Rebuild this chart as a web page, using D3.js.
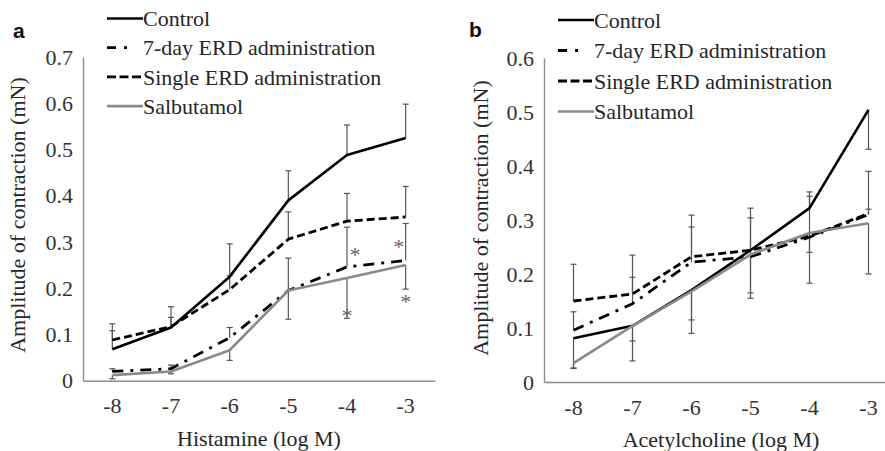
<!DOCTYPE html>
<html>
<head>
<meta charset="utf-8">
<script src="https://cdn.jsdelivr.net/npm/d3@7"></script>
<style>
  html, body { margin: 0; padding: 0; background: #fff; }
  svg { display: block; }
</style>
</head>
<body>
<svg id="chart" width="885" height="451"></svg>
<script>
// Log molar concentrations on the x axis
const doses = [-8, -7, -6, -5, -4, -3];
const seriesNames = ["Control", "7-day ERD administration", "Single ERD administration", "Salbutamol"];

// Panel a: histamine-induced contraction (mN)
const histControl  = [0.068, 0.115, 0.225, 0.390, 0.488, 0.525];
const histSevenDay = [0.020, 0.026, 0.093, 0.195, 0.246, 0.260];
const histSingle   = [0.088, 0.117, 0.197, 0.306, 0.345, 0.354];
const histSalb     = [0.012, 0.020, 0.066, 0.195, 0.222, 0.250];
// signed error bars (positive drawn upward, negative downward)
const histControlErr  = [0.055, 0.045, 0.071, 0.064, 0.065, 0.073];
const histSevenDayErr = [0.006, 0.008, 0.022, 0.070, 0.086, 0.080];
const histSingleErr   = [0.020, 0.020, 0.030, 0.059, 0.060, 0.066];
const histSalbErr     = [-0.008, -0.005, -0.022, -0.062, -0.087, -0.052];
// doses with a significant difference vs control
const histSigSevenDay = [-4, -3];
const histSigSalb     = [-4, -3];

// Panel b: acetylcholine-induced contraction (mN)
const achControl  = [0.081, 0.104, 0.170, 0.244, 0.322, 0.504];
const achSevenDay = [0.096, 0.145, 0.222, 0.232, 0.268, 0.310];
const achSingle   = [0.150, 0.163, 0.232, 0.244, 0.270, 0.312];
const achSalb     = [0.035, 0.104, 0.168, 0.236, 0.276, 0.294];
const achControlErr  = [-0.055, -0.028, -0.055, -0.079, 0.030, -0.073];
const achSevenDayErr = [0.034, 0.049, 0.065, 0.072, -0.028, 0.010];
const achSingleErr   = [0.068, 0.072, 0.077, 0.078, 0.074, 0.078];
const achSalbErr     = [-0.010, -0.065, -0.078, -0.081, -0.093, -0.094];

const yTicksA = [0, 0.1, 0.2, 0.3, 0.4, 0.5, 0.6, 0.7];
const yTicksB = [0, 0.1, 0.2, 0.3, 0.4, 0.5, 0.6];

const SERIF = "'Liberation Serif', 'Times New Roman', serif";
const SANS = "'Liberation Sans', Arial, sans-serif";

const styles = {
  "Control":                  { color: "#000", width: 2.6, dash: null,       legendDash: null },
  "7-day ERD administration": { color: "#000", width: 2.8, dash: "11,7,3,7", legendDash: "9,8,3,40" },
  "Single ERD administration":{ color: "#000", width: 2.8, dash: "8,4",      legendDash: "9,3.5" },
  "Salbutamol":               { color: "#8a8a8a", width: 2.6, dash: null,    legendDash: null }
};

const svg = d3.select("#chart");

function label(sel, size, fill) {
  return sel.style("font-family", SERIF).style("font-size", size + "px").style("fill", fill || "#262626");
}

function drawPanel(cfg) {
  const g = svg.append("g");
  const x = d3.scaleBand().domain(doses).range(cfg.xRange);
  const cx = d => x(d) + x.bandwidth() / 2;
  const y = d3.scaleLinear().domain(cfg.yDomain).range(cfg.yRange);

  // axes
  const yAxis = d3.axisLeft(y).tickValues(cfg.yTicks).tickSize(0).tickSizeOuter(0).tickPadding(10)
    .tickFormat(d => d === 0 ? "0" : d3.format(".1f")(d));
  const ya = g.append("g").attr("transform", `translate(${cfg.xRange[0]},0)`).call(yAxis);
  const xAxis = d3.axisBottom(x).tickSize(0).tickSizeOuter(0).tickPadding(17).tickFormat(d => String(d));
  const xa = g.append("g").attr("transform", `translate(0,${cfg.yRange[0]})`).call(xAxis);
  [ya, xa].forEach(a => {
    a.select(".domain").attr("stroke", "#8c8c8c").attr("stroke-width", 1.4);
    label(a.selectAll("text"), 22, "#333");
  });

  // axis titles
  label(g.append("text")
    .attr("transform", `translate(${cfg.yTitleX},${cfg.yTitleY}) rotate(-90)`)
    .attr("text-anchor", "middle").attr("dy", "0.35em"), 22)
    .text("Amplitude of contraction (mN)");
  label(g.append("text")
    .attr("x", cfg.xTitleX).attr("y", cfg.xTitleY)
    .attr("text-anchor", "middle"), 22).text(cfg.xTitle);

  // panel letter
  g.append("text").attr("x", cfg.letterX).attr("y", cfg.letterY)
    .style("font-family", SANS).style("font-weight", "bold")
    .style("font-size", "21px").style("fill", "#111").text(cfg.letter);

  // error bars
  const cap = 3;
  cfg.series.forEach(s => {
    s.values.forEach((v, i) => {
      const e = s.err[i];
      const x0 = cx(doses[i]);
      const y1 = y(v), y2 = y(v + e);
      g.append("line").attr("x1", x0).attr("x2", x0).attr("y1", y1).attr("y2", y2)
        .attr("stroke", "#555").attr("stroke-width", 1.2);
      g.append("line").attr("x1", x0 - cap).attr("x2", x0 + cap).attr("y1", y2).attr("y2", y2)
        .attr("stroke", "#555").attr("stroke-width", 1.2);
    });
  });

  // series lines
  const line = d3.line().x((d, i) => cx(doses[i])).y(d => y(d));
  cfg.series.forEach(s => {
    const st = styles[s.name];
    g.append("path").datum(s.values).attr("d", line)
      .attr("fill", "none").attr("stroke", st.color).attr("stroke-width", st.width)
      .attr("stroke-dasharray", st.dash).attr("stroke-linejoin", "round");
  });

  // significance marks
  (cfg.sig || []).forEach(m => {
    const i = doses.indexOf(m.dose);
    const s = cfg.series.find(q => q.name === m.name);
    const end = s.values[i] + s.err[i];
    label(g.append("text").attr("x", cx(m.dose) + m.dx).attr("y", y(m.anchor === "end" ? end : s.values[i]) + m.dy)
      .attr("text-anchor", "middle").attr("dy", "0.7em"), 22, "#666").text("*");
  });

  // legend
  const lg = g.append("g");
  seriesNames.forEach((name, k) => {
    const st = styles[name];
    const ly = cfg.legendY + k * cfg.legendStep;
    lg.append("line").attr("x1", cfg.legendX).attr("x2", cfg.legendX + 36).attr("y1", ly).attr("y2", ly)
      .attr("stroke", st.color).attr("stroke-width", st.width).attr("stroke-dasharray", st.legendDash);
    label(lg.append("text").attr("x", cfg.legendX + 36).attr("y", ly).attr("dy", "0.35em"), 22).text(name);
  });
}

drawPanel({
  letter: "a", letterX: 13, letterY: 38,
  xRange: [83, 435], yRange: [380.7, 57], yDomain: [0, 0.7], yTicks: yTicksA,
  xTitle: "Histamine (log M)", xTitleX: 259, xTitleY: 446,
  yTitleX: 17, yTitleY: 215,
  legendX: 107, legendY: 18.5, legendStep: 29.2,
  series: [
    { name: "Control", values: histControl, err: histControlErr },
    { name: "Single ERD administration", values: histSingle, err: histSingleErr },
    { name: "7-day ERD administration", values: histSevenDay, err: histSevenDayErr },
    { name: "Salbutamol", values: histSalb, err: histSalbErr }
  ],
  sig: histSigSevenDay.map((d, k) => ({ name: "7-day ERD administration", dose: d, dx: k === 0 ? 8 : -7, dy: k === 0 ? -20 : -22, anchor: "value" }))
    .concat(histSigSalb.map((d, k) => ({ name: "Salbutamol", dose: d, dx: 0, dy: k === 0 ? -11 : 4, anchor: "end" })))
});

drawPanel({
  letter: "b", letterX: 469, letterY: 37,
  xRange: [544, 898], yRange: [382, 58], yDomain: [0, 0.6], yTicks: yTicksB,
  xTitle: "Acetylcholine (log M)", xTitleX: 721, xTitleY: 447,
  yTitleX: 480, yTitleY: 218,
  legendX: 558, legendY: 20, legendStep: 30.5,
  series: [
    { name: "Control", values: achControl, err: achControlErr },
    { name: "Single ERD administration", values: achSingle, err: achSingleErr },
    { name: "7-day ERD administration", values: achSevenDay, err: achSevenDayErr },
    { name: "Salbutamol", values: achSalb, err: achSalbErr }
  ]
});
</script>
</body>
</html>
